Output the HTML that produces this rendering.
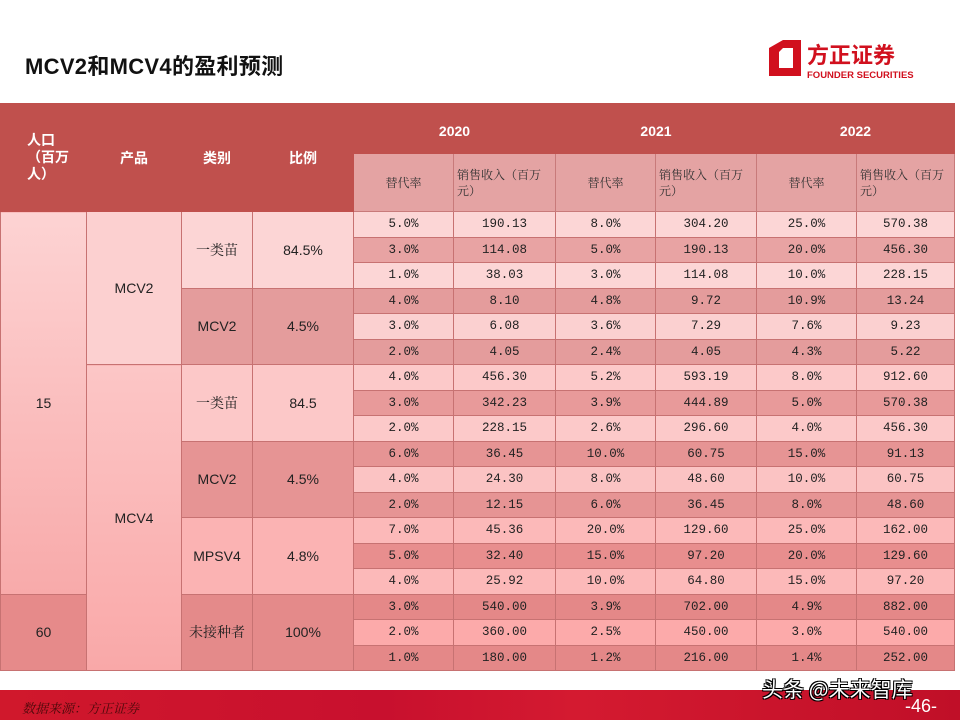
<!DOCTYPE html>
<html><head><meta charset="utf-8">
<style>
*{margin:0;padding:0;box-sizing:border-box}
body{width:960px;height:720px;background:#fff;position:relative;overflow:hidden;font-family:"Liberation Sans","Noto Sans CJK SC",sans-serif}
#title{position:absolute;left:25px;top:49px;font-size:22px;font-weight:bold;color:#111;font-family:"Liberation Sans","Noto Sans CJK SC",sans-serif;letter-spacing:0.3px}
#logo{position:absolute;left:767px;top:38px;width:170px;height:44px}
table{position:absolute;left:0;top:103px;border-collapse:collapse;table-layout:fixed;width:954px}
td{border:1px solid #c77272;text-align:center;vertical-align:middle;font-size:12px;color:#222;overflow:hidden;font-family:"Liberation Mono","Noto Sans CJK SC",monospace}
.h{background:#c0504d;color:#fff;font-weight:bold;font-size:14px;font-family:"Liberation Sans","Noto Sans CJK SC",sans-serif;border-color:#c0504d}
.sh{background:#e4a3a3;font-family:"Noto Serif CJK SC",serif;font-size:12px;color:#333;border-color:#c87a7a}
.shl{text-align:left;padding-left:3px;line-height:16px}
tr.d td{height:25.5px;font-size:12.5px}
tr.d td.m{font-size:14px;font-family:"Liberation Sans",sans-serif}
tr.d td.cn{font-family:"Noto Serif CJK SC",serif;font-size:14px}
#footer{position:absolute;left:0;top:690px;width:960px;height:30px;background:linear-gradient(90deg,#d0182c,#c8102e 40%,#d41a30 60%,#c00f28)}
#src{position:absolute;left:22px;top:698px;font-size:13px;font-style:italic;color:#4a0a0a;font-family:"Noto Serif CJK SC",serif}
#wm{position:absolute;left:762px;top:674px;font-size:21px;color:#fff;font-family:"Noto Sans CJK SC",sans-serif;text-shadow:-1px -1px 0 #000,1px -1px 0 #000,-1px 1px 0 #000,1px 1px 0 #000}
#pg{position:absolute;left:905px;top:696px;font-size:18px;color:#fff}
</style></head><body>
<div id="title">MCV2和MCV4的盈利预测</div>
<div id="logo">
<svg width="170" height="44" viewBox="0 0 170 44">
<path d="M2 10 L16 2 L34 2 L34 38 L2 38 Z M12 14 L12 30 L26 30 L26 10 L16 10 Z" fill="#d1101e" fill-rule="evenodd"/>
<text x="40" y="25" font-size="22" font-weight="bold" fill="#d1101e" font-family="Noto Sans CJK SC,sans-serif">方正证券</text>
<text x="40" y="40" font-size="9.5" font-weight="bold" fill="#d1101e" font-family="Liberation Sans,sans-serif">FOUNDER SECURITIES</text>
</svg></div>
<table>
<colgroup><col style="width:86px"><col style="width:95px"><col style="width:71px"><col style="width:101px"><col style="width:100px"><col style="width:102px"><col style="width:100px"><col style="width:101px"><col style="width:100px"><col style="width:98px"></colgroup>
<tr style="height:50px">
<td class="h" rowspan="2" style="text-align:left;padding-left:26px;line-height:17px">人口<br>（百万<br>人）</td>
<td class="h" rowspan="2">产品</td>
<td class="h" rowspan="2">类别</td>
<td class="h" rowspan="2">比例</td>
<td class="h" colspan="2" style="padding-top:4px">2020</td>
<td class="h" colspan="2" style="padding-top:4px">2021</td>
<td class="h" colspan="2" style="padding-top:4px">2022</td>
</tr>
<tr style="height:58px">
<td class="sh">替代率</td><td class="sh shl">销售收入（百万元）</td>
<td class="sh">替代率</td><td class="sh shl">销售收入（百万元）</td>
<td class="sh">替代率</td><td class="sh shl">销售收入（百万元）</td>
</tr>
<tr class="d" style="background:#fcd6d6"><td rowspan="15" class="m" style="background:linear-gradient(#fdd3d3,#f8aaaa)">15</td><td rowspan="6" class="m" style="background:#fcd0d0">MCV2</td><td rowspan="3" class="cn" style="background:#fcd5d5">一类苗</td><td rowspan="3" class="m" style="background:#fcd5d5">84.5%</td><td>5.0%</td><td>190.13</td><td>8.0%</td><td>304.20</td><td>25.0%</td><td>570.38</td></tr>
<tr class="d" style="background:#e8a3a3"><td>3.0%</td><td>114.08</td><td>5.0%</td><td>190.13</td><td>20.0%</td><td>456.30</td></tr>
<tr class="d" style="background:#fcd6d6"><td>1.0%</td><td>38.03</td><td>3.0%</td><td>114.08</td><td>10.0%</td><td>228.15</td></tr>
<tr class="d" style="background:#e49c9c"><td rowspan="3" class="m" style="background:#e49c9c">MCV2</td><td rowspan="3" class="m" style="background:#e49c9c">4.5%</td><td>4.0%</td><td>8.10</td><td>4.8%</td><td>9.72</td><td>10.9%</td><td>13.24</td></tr>
<tr class="d" style="background:#fbd0d0"><td>3.0%</td><td>6.08</td><td>3.6%</td><td>7.29</td><td>7.6%</td><td>9.23</td></tr>
<tr class="d" style="background:#e49c9c"><td>2.0%</td><td>4.05</td><td>2.4%</td><td>4.05</td><td>4.3%</td><td>5.22</td></tr>
<tr class="d" style="background:#fcc9c9"><td rowspan="12" class="m" style="background:linear-gradient(#fcc6c6,#f9a8a8)">MCV4</td><td rowspan="3" class="cn" style="background:#fcc8c8">一类苗</td><td rowspan="3" class="m" style="background:#fcc8c8">84.5</td><td>4.0%</td><td>456.30</td><td>5.2%</td><td>593.19</td><td>8.0%</td><td>912.60</td></tr>
<tr class="d" style="background:#e89a9a"><td>3.0%</td><td>342.23</td><td>3.9%</td><td>444.89</td><td>5.0%</td><td>570.38</td></tr>
<tr class="d" style="background:#fcc9c9"><td>2.0%</td><td>228.15</td><td>2.6%</td><td>296.60</td><td>4.0%</td><td>456.30</td></tr>
<tr class="d" style="background:#e69494"><td rowspan="3" class="m" style="background:#e69494">MCV2</td><td rowspan="3" class="m" style="background:#e69494">4.5%</td><td>6.0%</td><td>36.45</td><td>10.0%</td><td>60.75</td><td>15.0%</td><td>91.13</td></tr>
<tr class="d" style="background:#fbc3c3"><td>4.0%</td><td>24.30</td><td>8.0%</td><td>48.60</td><td>10.0%</td><td>60.75</td></tr>
<tr class="d" style="background:#e69494"><td>2.0%</td><td>12.15</td><td>6.0%</td><td>36.45</td><td>8.0%</td><td>48.60</td></tr>
<tr class="d" style="background:#fcb9b9"><td rowspan="3" class="m" style="background:#fbb3b3">MPSV4</td><td rowspan="3" class="m" style="background:#fbb3b3">4.8%</td><td>7.0%</td><td>45.36</td><td>20.0%</td><td>129.60</td><td>25.0%</td><td>162.00</td></tr>
<tr class="d" style="background:#e88e8e"><td>5.0%</td><td>32.40</td><td>15.0%</td><td>97.20</td><td>20.0%</td><td>129.60</td></tr>
<tr class="d" style="background:#fcb9b9"><td>4.0%</td><td>25.92</td><td>10.0%</td><td>64.80</td><td>15.0%</td><td>97.20</td></tr>
<tr class="d" style="background:#e48888"><td rowspan="3" class="m" style="background:#e68a8a">60</td><td rowspan="3" class="cn" style="background:#e48a8a">未接种者</td><td rowspan="3" class="m" style="background:#e48a8a">100%</td><td>3.0%</td><td>540.00</td><td>3.9%</td><td>702.00</td><td>4.9%</td><td>882.00</td></tr>
<tr class="d" style="background:#fcaaaa"><td>2.0%</td><td>360.00</td><td>2.5%</td><td>450.00</td><td>3.0%</td><td>540.00</td></tr>
<tr class="d" style="background:#e48888"><td>1.0%</td><td>180.00</td><td>1.2%</td><td>216.00</td><td>1.4%</td><td>252.00</td></tr>
</table>
<div id="footer"></div>
<div id="src">数据来源：方正证券</div>
<div id="wm">头条 @未来智库</div>
<div id="pg">-46-</div>
</body></html>
